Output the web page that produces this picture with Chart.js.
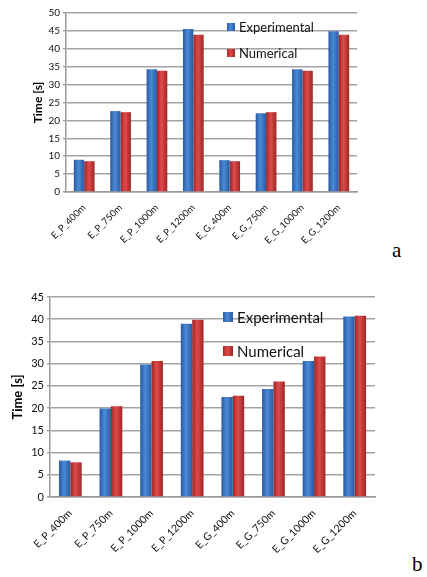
<!DOCTYPE html>
<html lang="en">
<head>
<meta charset="UTF-8" />
<title>Time comparison</title>
<script src="https://cdn.jsdelivr.net/npm/chart.js"></script>
<style>
  body { margin: 0; background: #fff; width: 427px; height: 577px; position: relative; overflow: hidden; font-family: Lato, "Open Sans", sans-serif; }
  canvas { position: absolute; left: 0; }
  #chartA { top: 0; }
  #chartB { top: 285px; }
  .legend { position: absolute; color: #111; white-space: nowrap; }
  .legend div { display: flex; align-items: center; }
  .sw { display: inline-block; margin-right: 4px; }
  .blue { background: linear-gradient(to right, #2c5fa6, #4a8ad8 45%, #2a5a9e); }
  .red { background: linear-gradient(to right, #a82a2a, #e04848 45%, #9e2626); }
  .tag { position: absolute; font-family: "Liberation Serif", "DejaVu Serif", serif; font-size: 21px; color: #000; }
</style>
</head>
<body>
<canvas id="chartA" width="370" height="250"></canvas>
<canvas id="chartB" width="390" height="280"></canvas>

<div class="legend" style="left:227px; top:18px; font-size:13px;">
  <div style="height:18px;"><span class="sw blue" style="width:8px;height:8px;"></span>Experimental</div>
  <div style="height:18px; margin-top:8px;"><span class="sw red" style="width:8px;height:8px;"></span>Numerical</div>
</div>
<div class="legend" style="left:223px; top:306px; font-size:15px;">
  <div style="height:22px;"><span class="sw blue" style="width:10px;height:10px;"></span>Experimental</div>
  <div style="height:22px; margin-top:12px;"><span class="sw red" style="width:10px;height:10px;"></span>Numerical</div>
</div>

<div class="tag" style="left:392px; top:238px;">a</div>
<div class="tag" style="left:412px; top:552px;">b</div>

<script>
// categories (same for both panels)
const categories = ['E_P_400m', 'E_P_750m', 'E_P_1000m', 'E_P_1200m',
                    'E_G_400m', 'E_G_750m', 'E_G_1000m', 'E_G_1200m'];

// panel a
const experimentalA = [9.0, 22.6, 34.3, 45.5, 8.9, 22.0, 34.3, 44.9];
const numericalA    = [8.6, 22.3, 33.9, 43.9, 8.6, 22.3, 33.9, 43.9];
const yMaxA = 50;

// panel b
const experimentalB = [8.2, 19.9, 29.8, 39.0, 22.5, 24.3, 30.6, 40.6];
const numericalB    = [7.8, 20.4, 30.6, 39.9, 22.8, 26.0, 31.6, 40.8];
const yMaxB = 45;

const yStep = 5;

// cylinder-ish shading across each bar
function barFill(light, mid, dark) {
    return function (ctx) {
        const el = ctx.element;
        if (!el || el.width == null || isNaN(el.x)) return mid;
        const g = ctx.chart.ctx.createLinearGradient(el.x - el.width / 2, 0, el.x + el.width / 2, 0);
        g.addColorStop(0, dark);
        g.addColorStop(0.45, light);
        g.addColorStop(1, dark);
        return g;
    };
}

function makeChart(id, exp, num, yMax, s) {
    const chart = new Chart(document.getElementById(id), {
        type: 'bar',
        data: {
            labels: categories,
            datasets: [{
                label: 'Experimental',
                data: exp,
                backgroundColor: barFill('#4a8ad8', '#3a76c4', '#2a5a9e')
            }, {
                label: 'Numerical',
                data: num,
                backgroundColor: barFill('#e04a4a', '#cc3a3a', '#9e2626')
            }]
        },
        options: {
            responsive: false,
            animation: false,
            categoryPercentage: s.cat,
            barPercentage: 1.0,
            layout: { padding: { left: s.left, top: s.top, right: s.right, bottom: 0 } },
            scales: {
                x: {
                    grid: { display: false },
                    border: { display: true, color: '#9a9a9a', width: 1.5 },
                    ticks: {
                        color: '#111',
                        font: { family: 'Lato', size: s.xFont },
                        minRotation: 45,
                        maxRotation: 45,
                        autoSkip: false,
                        padding: 2
                    },
                    afterFit: (sc) => { sc.height = s.xHeight; }
                },
                y: {
                    min: 0,
                    max: yMax,
                    grid: { color: '#a3a3a3', lineWidth: 1.5, tickLength: 3 },
                    border: { display: true, color: '#9a9a9a', width: 1.5 },
                    ticks: {
                        stepSize: yStep,
                        color: '#111',
                        font: { family: 'Lato', size: s.yFont },
                        padding: 3
                    },
                    title: {
                        display: true,
                        text: 'Time [s]',
                        color: '#000',
                        font: { family: 'Lato', size: s.titleFont, weight: 'bold' },
                        padding: 0
                    },
                    afterFit: (sc) => { sc.width = s.yWidth; }
                }
            },
            plugins: {
                legend: { display: false },
                tooltip: { enabled: false }
            }
        }
    });
    // second pass so the gradients know where the bars are
    chart.update();
    return chart;
}

const chartA = makeChart('chartA', experimentalA, numericalA, yMaxA,
    { cat: 0.57, left: 31, top: 13, right: 13, xHeight: 58, yWidth: 35, xFont: 9.5, yFont: 10, titleFont: 12 });
const chartB = makeChart('chartB', experimentalB, numericalB, yMaxB,
    { cat: 0.56, left: 10, top: 12, right: 15, xHeight: 68, yWidth: 40, xFont: 10.5, yFont: 11, titleFont: 13 });
</script>
</body>
</html>
